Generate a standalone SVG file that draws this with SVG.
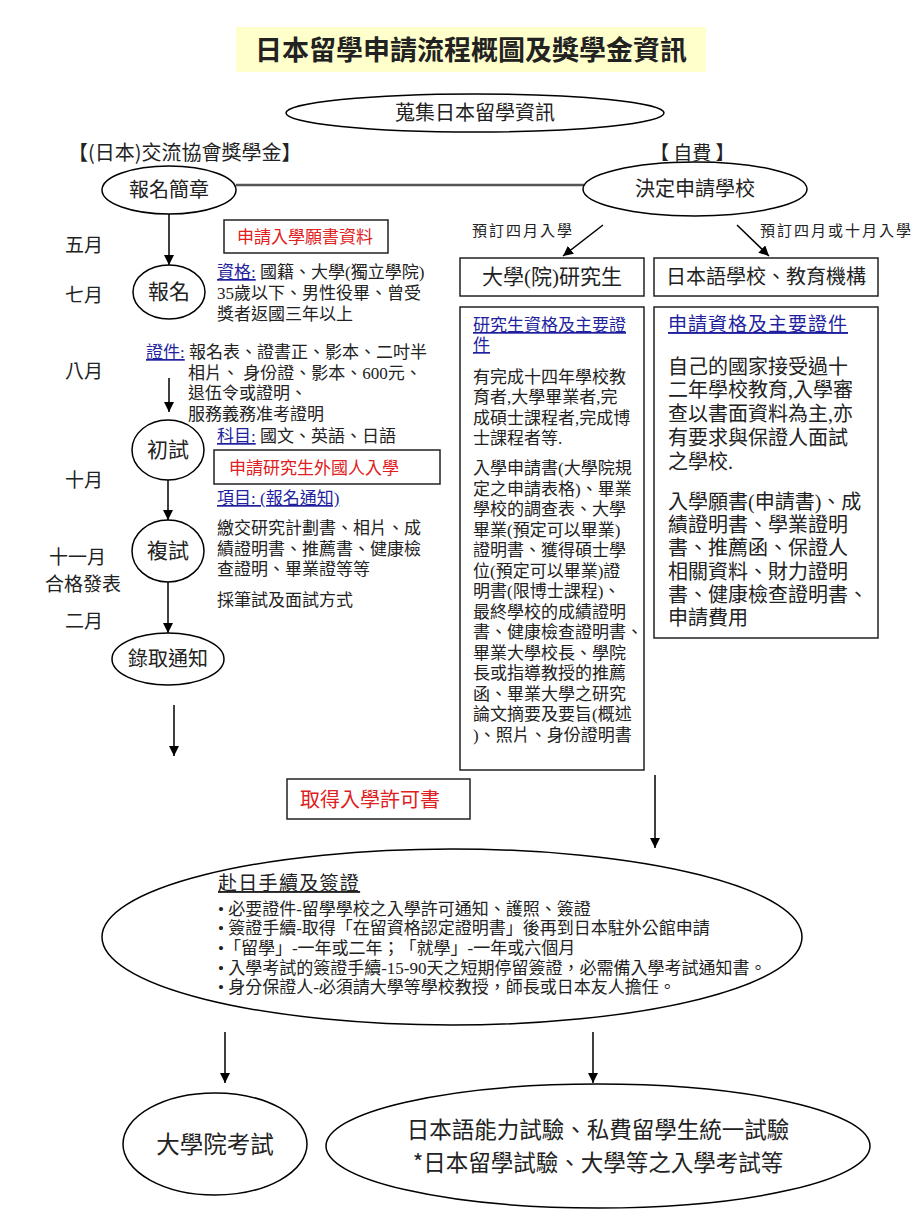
<svg xmlns="http://www.w3.org/2000/svg" width="920" height="1227" viewBox="0 0 920 1227">
<defs>
<marker id="ah" viewBox="0 0 10 10" refX="10" refY="5" markerWidth="10" markerHeight="10" markerUnits="userSpaceOnUse" orient="auto">
<path d="M0,0 L10,5 L0,10 z" fill="#000"/>
</marker>
<style>
text{text-spacing-trim:space-all}
.sh{fill:#fff;stroke:#000;stroke-width:1.5}
.bx{fill:#fff;stroke:#222;stroke-width:1.5}
.t{font-family:"Noto Sans CJK TC","Noto Sans CJK SC",sans-serif;fill:#222}
.b{font-family:"Liberation Serif","Noto Sans CJK TC",serif;fill:#222}
.c{text-anchor:middle}
.red{fill:#e02020}
.lnk{fill:#1f1fa0;text-decoration:underline}
.con line{stroke:#000;stroke-width:1.5}
.con .arr{marker-end:url(#ah)}
</style>
</defs>
<rect width="920" height="1227" fill="#fff"/>

<g id="title">
<rect x="236" y="27" width="470" height="45" fill="#ffffcc"/>
<text class="t c" x="471" y="60" font-size="27" font-weight="bold" fill="#000">日本留學申請流程概圖及獎學金資訊</text>
</g>

<g id="collect">
<ellipse class="sh" cx="475" cy="113" rx="189" ry="19"/>
<text class="t c" x="475" y="120" font-size="20">蒐集日本留學資訊</text>
</g>

<g id="heads">
<text class="t" x="68" y="160" font-size="20">【(日本)交流協會獎學金】</text>
<text class="t" x="650" y="160" font-size="19">【 自費 】</text>
</g>

<g id="months" class="t" font-size="19">
<text x="65" y="252">五月</text>
<text x="65" y="302">七月</text>
<text x="65" y="378">八月</text>
<text x="65" y="487">十月</text>
<text x="49" y="564">十一月</text>
<text x="45" y="591">合格發表</text>
<text x="65" y="628">二月</text>
</g>

<g id="connectors" class="con">
<line x1="236" y1="185" x2="584" y2="185" style="stroke:#555;stroke-width:2.5"/>
<line class="arr" x1="169" y1="214" x2="169" y2="265"/>
<line class="arr" x1="169" y1="378" x2="169" y2="412"/>
<line class="arr" x1="168" y1="480" x2="168" y2="520"/>
<line class="arr" x1="168" y1="582" x2="168" y2="633"/>
<line class="arr" x1="174" y1="705" x2="174" y2="756"/>
<line class="arr" x1="603" y1="225" x2="563" y2="256"/>
<line class="arr" x1="737" y1="225" x2="769" y2="256"/>
<line class="arr" x1="655" y1="775" x2="655" y2="848"/>
<line class="arr" x1="225" y1="1032" x2="225" y2="1083"/>
<line class="arr" x1="593" y1="1032" x2="593" y2="1083"/>
</g>

<g id="n-guide">
<ellipse class="sh" cx="169" cy="190" rx="67" ry="24"/>
<text class="t c" x="169" y="197" font-size="20">報名簡章</text>
</g>

<g id="n-decide">
<ellipse class="sh" cx="695" cy="189" rx="112" ry="27"/>
<text class="t c" x="695" y="196" font-size="20">決定申請學校</text>
</g>

<g id="n-apply">
<ellipse class="sh" cx="169" cy="292" rx="36" ry="27"/>
<text class="t c" x="169" y="299" font-size="21">報名</text>
</g>

<g id="note-apply-doc">
<rect class="bx" x="224" y="220" width="164" height="33"/>
<text class="t red" x="237" y="243" font-size="17">申請入學願書資料</text>
</g>

<g id="note-qual" class="b" font-size="17">
<text x="217" y="278"><tspan class="lnk">資格:</tspan> 國籍、大學(獨立學院)</text>
<text x="217" y="299">35歲以下、男性役畢、曾受</text>
<text x="217" y="320">獎者返國三年以上</text>
</g>

<g id="note-docs" class="b" font-size="17">
<text x="146" y="358"><tspan class="lnk">證件:</tspan> 報名表、證書正、影本、二吋半</text>
<text x="188" y="379">相片、 身份證、影本、600元、</text>
<text x="188" y="399">退伍令或證明、</text>
<text x="188" y="420"> 服務義務准考證明</text>
</g>

<g id="n-first">
<ellipse class="sh" cx="168" cy="450" rx="36" ry="30"/>
<text class="t c" x="168" y="457" font-size="21">初試</text>
</g>

<g id="note-subj" class="b" font-size="17">
<text x="217" y="442"><tspan class="lnk">科目:</tspan> 國文、英語、日語</text>
</g>

<g id="note-grad-apply">
<rect class="bx" x="214" y="450" width="226" height="34"/>
<text class="t red" x="229" y="474" font-size="17">申請研究生外國人入學</text>
</g>

<g id="note-items" class="b" font-size="17">
<text x="217" y="504" class="b lnk">項目: (報名通知)</text>
<text x="217" y="534">繳交研究計劃書、相片、成</text>
<text x="217" y="555">績證明書、推薦書、健康檢</text>
<text x="217" y="575">查證明、畢業證等等</text>
<text x="217" y="606">採筆試及面試方式</text>
</g>

<g id="n-second">
<ellipse class="sh" cx="168" cy="551" rx="36" ry="31"/>
<text class="t c" x="168" y="558" font-size="21">複試</text>
</g>

<g id="n-admit">
<ellipse class="sh" cx="168" cy="659" rx="56" ry="26"/>
<text class="t c" x="168" y="666" font-size="20">錄取通知</text>
</g>

<g id="labels" class="t" font-size="15" letter-spacing="2">
<text x="472" y="236">預訂四月入學</text>
<text x="760" y="236">預訂四月或十月入學</text>
</g>

<g id="n-grad">
<rect class="bx" x="460" y="258" width="184" height="38"/>
<text class="b c" x="552" y="284" font-size="21">大學(院)研究生</text>
</g>

<g id="n-lang">
<rect class="bx" x="654" y="258" width="224" height="38"/>
<text class="t c" x="766" y="284" font-size="20">日本語學校、教育機構</text>
</g>

<g id="grad-detail" class="b" font-size="17">
<rect class="bx" x="460" y="307" width="184" height="463"/>
<text x="473" y="331" class="b lnk">研究生資格及主要證</text>
<text x="473" y="351" class="b lnk">件</text>
<text x="473" y="383">有完成十四年學校教</text>
<text x="473" y="403">育者,大學畢業者,完</text>
<text x="473" y="424">成碩士課程者,完成博</text>
<text x="473" y="444">士課程者等.</text>
<text x="473" y="474">入學申請書(大學院規</text>
<text x="473" y="494.5">定之申請表格)、畢業</text>
<text x="473" y="515">學校的調查表、大學</text>
<text x="473" y="535.5">畢業(預定可以畢業)</text>
<text x="473" y="556">證明書、獲得碩士學</text>
<text x="473" y="576.5">位(預定可以畢業)證</text>
<text x="473" y="597">明書(限博士課程)、</text>
<text x="473" y="617.5">最終學校的成績證明</text>
<text x="473" y="638">書、健康檢查證明書、</text>
<text x="473" y="658.5">畢業大學校長、學院</text>
<text x="473" y="679">長或指導教授的推薦</text>
<text x="473" y="699.5">函、畢業大學之研究</text>
<text x="473" y="720">論文摘要及要旨(概述</text>
<text x="473" y="740.5">)、照片、身份證明書</text>
</g>

<g id="lang-detail" class="b" font-size="20">
<rect class="bx" x="654" y="307" width="224" height="331"/>
<text x="668" y="331" class="b lnk" font-size="19" letter-spacing="1">申請資格及主要證件</text>
<text x="668" y="374">自己的國家接受過十</text>
<text x="668" y="397">二年學校教育,入學審</text>
<text x="668" y="421">查以書面資料為主,亦</text>
<text x="668" y="445">有要求與保證人面試</text>
<text x="668" y="469">之學校.</text>
<text x="668" y="509">入學願書(申請書)、成</text>
<text x="668" y="532">績證明書、學業證明</text>
<text x="668" y="555">書、推薦函、保證人</text>
<text x="668" y="579">相關資料、財力證明</text>
<text x="668" y="602">書、健康檢查證明書、</text>
<text x="668" y="625">申請費用</text>
</g>

<g id="permit">
<rect class="bx" x="287" y="779" width="183" height="40"/>
<text class="t red" x="300" y="807" font-size="20">取得入學許可書</text>
</g>

<g id="n-visa">
<ellipse class="sh" cx="452" cy="937" rx="350" ry="88"/>
<text class="t" x="218" y="890" font-size="19" letter-spacing="1.3" text-decoration="underline">赴日手續及簽證</text>
<g class="b" font-size="17">
<text x="218" y="915">• 必要證件-留學學校之入學許可通知、護照、簽證</text>
<text x="218" y="934">• 簽證手續-取得「在留資格認定證明書」後再到日本駐外公館申請</text>
<text x="218" y="954">•「留學」-一年或二年；「就學」-一年或六個月</text>
<text x="218" y="974">• 入學考試的簽證手續-15-90天之短期停留簽證，必需備入學考試通知書。</text>
<text x="218" y="993">• 身分保證人-必須請大學等學校教授，師長或日本友人擔任。</text>
</g>
</g>

<g id="n-gradexam">
<ellipse class="sh" cx="215" cy="1144" rx="92" ry="51"/>
<text class="t c" x="215" y="1153" font-size="23.5">大學院考試</text>
</g>

<g id="n-exams">
<ellipse class="sh" cx="598" cy="1146" rx="272" ry="62"/>
<text class="t c" x="598" y="1138" font-size="22.5">日本語能力試驗、私費留學生統一試驗</text>
<text class="t c" x="598" y="1171" font-size="22.5">*日本留學試驗、大學等之入學考試等</text>
</g>
</svg>
